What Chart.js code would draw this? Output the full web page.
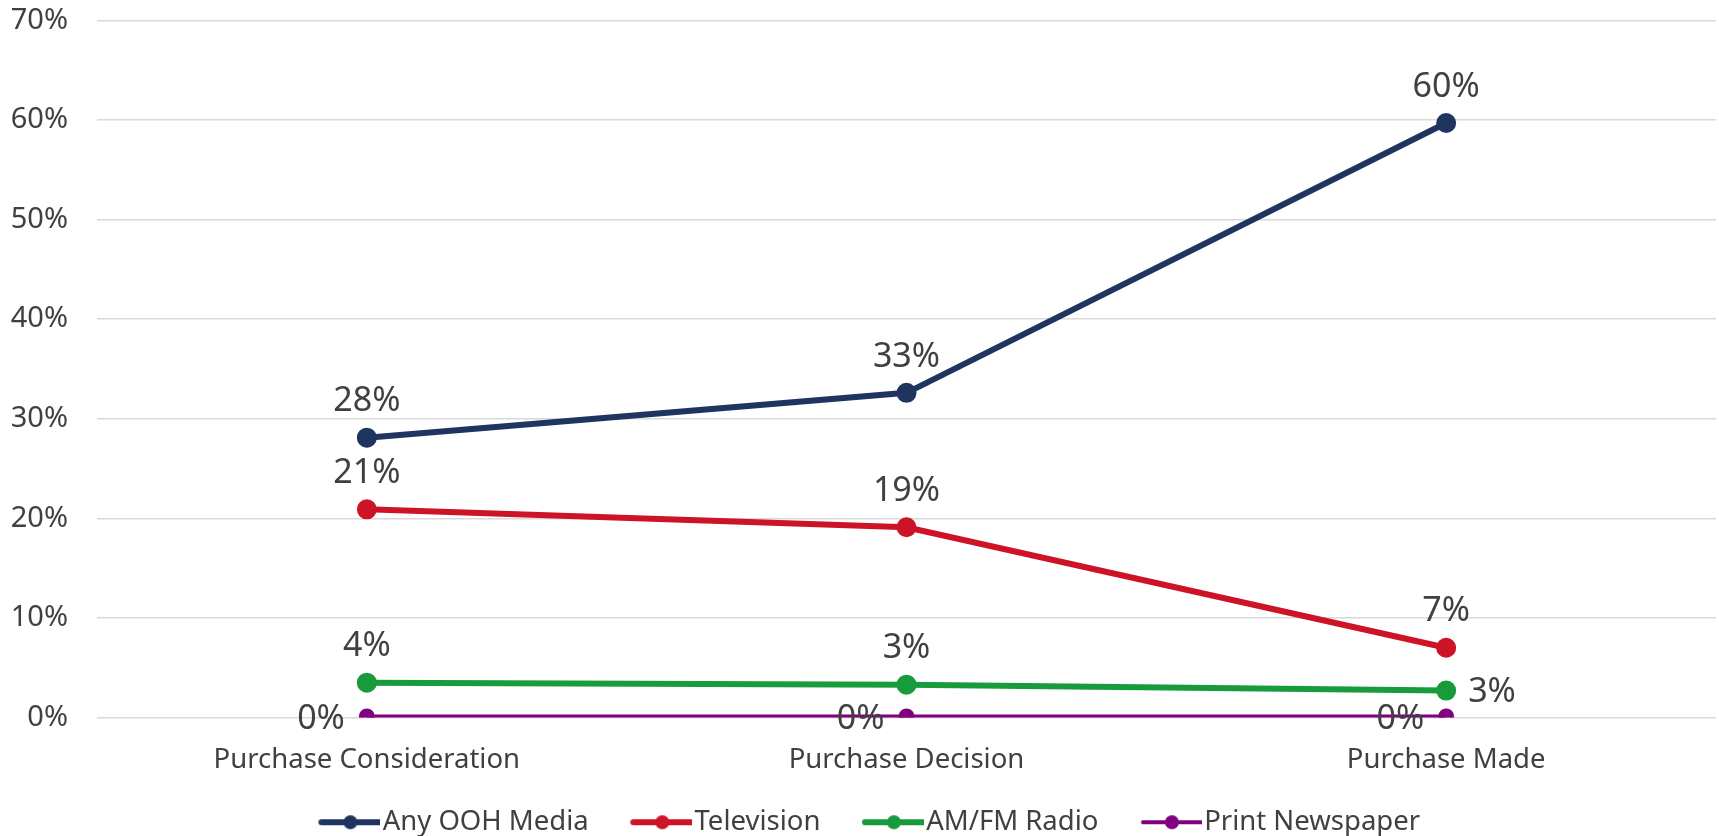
<!DOCTYPE html>
<html>
<head>
<meta charset="utf-8">
<script src="https://cdn.jsdelivr.net/npm/chart.js@4.4.1/dist/chart.umd.min.js"></script>
<style>
	html, body { margin: 0; padding: 0; background: #fff; }
	#wrap { width: 1719px; height: 836px; position: relative; }
</style>
</head>
<body>
<div id="wrap"><canvas id="chart"></canvas></div>
<script>
// categories and values (percent)
const stages = ["Purchase Consideration", "Purchase Decision", "Purchase Made"];
const oohValues = [28.1, 32.6, 59.7];
const tvValues = [20.9, 19.1, 7.0];
const radioValues = [3.5, 3.3, 2.7];
const printValues = [0.1, 0.1, 0.1];
const yTicks = [0, 10, 20, 30, 40, 50, 60, 70];

const textColor = "#404040";
const fontFamily = "'Noto Sans', 'Open Sans', sans-serif";

// legend marker: blank lead-in, then a short line with a dot on it
function legendMarker(color, lineWidth) {
	const c = document.createElement("canvas");
	c.width = 105;
	c.height = 16;
	const g = c.getContext("2d");
	g.strokeStyle = color;
	g.lineWidth = lineWidth;
	g.lineCap = "round";
	g.beginPath();
	g.moveTo(46, 8);
	g.lineTo(104, 8);
	g.stroke();
	g.fillStyle = color;
	g.beginPath();
	g.arc(75, 8, 7, 0, Math.PI * 2);
	g.fill();
	return c;
}

// value labels drawn next to each point
const valueLabels = {
	id: "valueLabels",
	afterLayout(chart) {
		// nudge the legend a little left, as in the original
		chart.legend.left -= 10;
		chart.legend.right -= 10;
	},
	afterDatasetsDraw(chart) {
		const ctx = chart.ctx;
		ctx.save();
		ctx.font = "34px " + fontFamily;
		ctx.fillStyle = textColor;
		chart.data.datasets.forEach((ds, i) => {
			const meta = chart.getDatasetMeta(i);
			meta.data.forEach((pt, j) => {
				const text = Math.round(ds.data[j]) + "%";
				const pos = ds.labelPos[j];
				ctx.textBaseline = "middle";
				if (pos === "right") {
					ctx.textAlign = "left";
					ctx.fillText(text, pt.x + 22, pt.y + 2);
				} else if (pos === "left") {
					ctx.textAlign = "right";
					ctx.fillText(text, pt.x - 22, pt.y + 3);
				} else {
					ctx.textAlign = "center";
					ctx.fillText(text, pt.x, pt.y - 36);
				}
			});
		});
		ctx.restore();
	},
};

function series(label, data, color, width, radius, labelPos) {
	return {
		label: label,
		data: data,
		borderColor: color,
		backgroundColor: color,
		pointBackgroundColor: color,
		pointBorderColor: color,
		borderWidth: width,
		pointRadius: radius,
		pointHoverRadius: radius,
		tension: 0,
		labelPos: labelPos,
		legendImage: legendMarker(color, width),
	};
}

const ctx = document.getElementById("chart").getContext("2d");
new Chart(ctx, {
	type: "line",
	data: {
		labels: stages,
		datasets: [
			series("Any OOH Media", oohValues, "#1f3560", 6, 7, ["top", "top", "top"]),
			series("Television", tvValues, "#cc1426", 6, 7, ["top", "top", "top"]),
			series("AM/FM Radio", radioValues, "#179b3c", 6, 7, ["top", "top", "right"]),
			series("Print Newspaper", printValues, "#800080", 4, 6, ["left", "left", "left"]),
		],
	},
	options: {
		responsive: true,
		maintainAspectRatio: false,
		animation: false,
		layout: {
			autoPadding: false,
			padding: { top: 0, right: 3, left: 11, bottom: -10 },
		},
		scales: {
			x: {
				offset: true,
				grid: { display: false },
				border: { display: false },
				afterFit: (scale) => {
					scale.height += 4;
					scale.paddingLeft = 0;
					scale.paddingRight = 0;
				},
				ticks: {
					color: textColor,
					font: { family: fontFamily, size: 27.5 },
					padding: 18,
					maxRotation: 0,
				},
			},
			y: {
				min: 0,
				max: 70,
				afterBuildTicks: (scale) => {
					scale.ticks = yTicks.map((v) => ({ value: v }));
				},
				afterFit: (scale) => {
					scale.width = 86;
				},
				grid: { color: "#d9d9d9", lineWidth: 1.5, drawTicks: true, tickLength: 26, tickColor: "rgba(0,0,0,0)" },
				border: { display: false },
				ticks: {
					color: textColor,
					font: { family: fontFamily, size: 29 },
					padding: 3,
					callback: (v) => v + "%",
				},
			},
		},
		plugins: {
			legend: {
				position: "bottom",
				labels: {
					usePointStyle: true,
					pointStyleWidth: 82,
					color: textColor,
					font: { family: fontFamily, size: 27.5 },
					padding: 10,
					generateLabels: (chart) =>
						chart.data.datasets.map((ds, i) => ({
							text: ds.label,
							pointStyle: ds.legendImage,
							fillStyle: ds.borderColor,
							strokeStyle: ds.borderColor,
							lineWidth: 0,
							fontColor: textColor,
							hidden: false,
							datasetIndex: i,
						})),
				},
			},
			tooltip: { enabled: false },
		},
	},
	plugins: [valueLabels],
});
</script>
</body>
</html>
